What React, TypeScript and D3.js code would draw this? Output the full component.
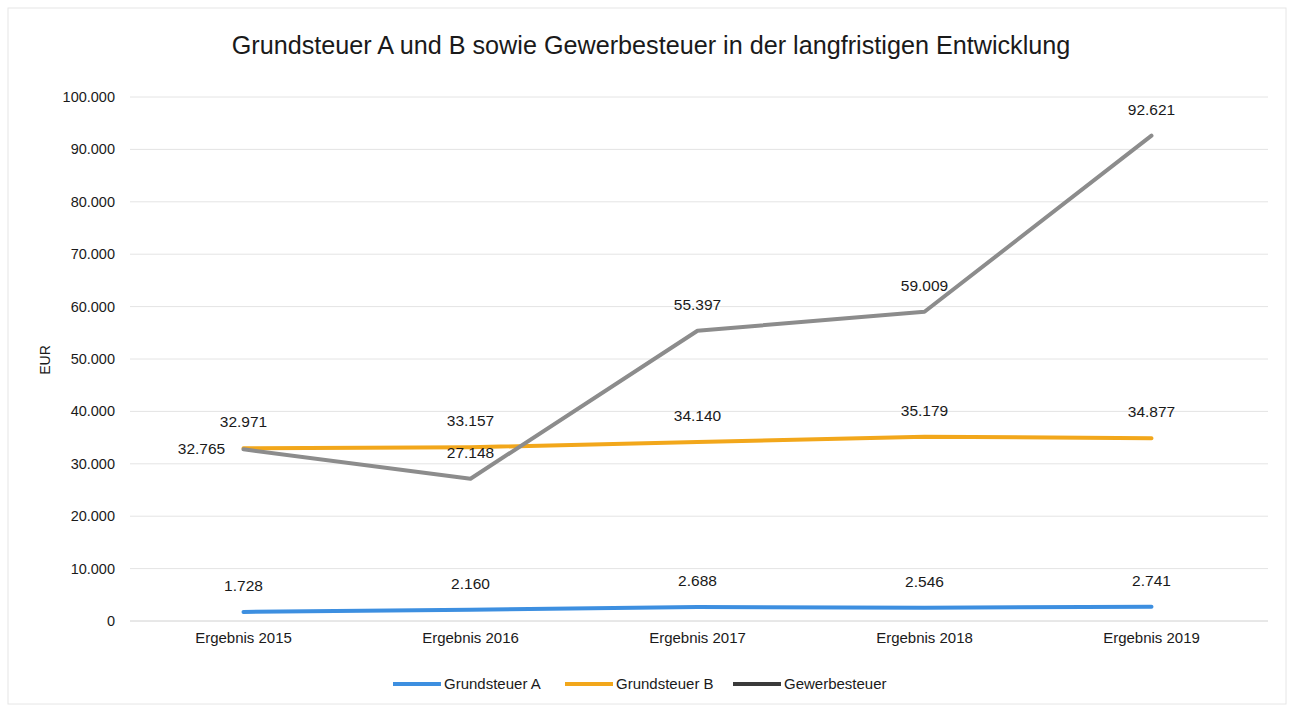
import React from "react";
import * as d3 from "d3";

const categories = ["Ergebnis 2015", "Ergebnis 2016", "Ergebnis 2017", "Ergebnis 2018", "Ergebnis 2019"];
const grundsteuerA = [1728, 2160, 2688, 2546, 2741];
const grundsteuerB = [32971, 33157, 34140, 35179, 34877];
const gewerbesteuer = [32765, 27148, 55397, 59009, 92621];
const yTicks = [0, 10000, 20000, 30000, 40000, 50000, 60000, 70000, 80000, 90000, 100000];
const seriesNames = ["Grundsteuer A", "Grundsteuer B", "Gewerbesteuer"];

const W = 1294, H = 708;
const FONT = "'Liberation Sans', Arial, sans-serif";
const fmt = (v: number) => d3.format(",")(v).replace(/,/g, ".");

export default function App() {
  const x = d3.scaleBand<string>().domain(categories).range([130, 1265]);
  const y = d3.scaleLinear().domain([0, 100000]).range([621, 97]);
  const cx = (c: string) => (x(c) as number) + x.bandwidth() / 2;
  const line = d3.line<number>().x((_, i) => cx(categories[i])).y((d) => y(d));

  const series = [
    { name: seriesNames[0], data: grundsteuerA, color: "#3d8fe0", legend: "#3d8fe0" },
    { name: seriesNames[1], data: grundsteuerB, color: "#f2a71b", legend: "#f2a71b" },
    { name: seriesNames[2], data: gewerbesteuer, color: "#8c8c8c", legend: "#3a3a3a" },
  ];

  const legendX = [393, 565, 733];

  return (
    <svg width={W} height={H} style={{ position: "absolute", left: 0, top: 0, background: "#fff" }} fontFamily={FONT}>
      <rect x={8} y={8} width={W - 16} height={H - 12} fill="none" stroke="#e6e6e6" />
      <text x={651} y={54} textAnchor="middle" fontSize={25.2} fill="#1a1a1a">
        Grundsteuer A und B sowie Gewerbesteuer in der langfristigen Entwicklung
      </text>
      {yTicks.map((t) => (
        <g key={t}>
          <line x1={130} x2={1268} y1={y(t)} y2={y(t)} stroke={t === 0 ? "#d0d0d0" : "#e4e4e4"} strokeWidth={1} />
          <text x={115} y={y(t) + 5} textAnchor="end" fontSize={14.5} fill="#1a1a1a">{fmt(t)}</text>
        </g>
      ))}
      <text transform={`translate(50,360) rotate(-90)`} textAnchor="middle" fontSize={14} fill="#1a1a1a">EUR</text>
      {categories.map((c) => (
        <text key={c} x={cx(c)} y={643} textAnchor="middle" fontSize={15} fill="#1a1a1a">{c}</text>
      ))}
      {series.map((s) => (
        <path key={s.name} d={line(s.data) as string} fill="none" stroke={s.color} strokeWidth={4} strokeLinejoin="round" strokeLinecap="round" />
      ))}
      {series.map((s, si) =>
        s.data.map((v, i) => {
          const left = si === 2 && i === 0;
          const px = cx(categories[i]);
          const py = y(v);
          return (
            <text key={s.name + i} x={left ? px - 42 : px} y={left ? py + 5 : py - 21} textAnchor="middle" fontSize={15.5} fill="#1a1a1a">
              {fmt(v)}
            </text>
          );
        })
      )}
      {series.map((s, i) => (
        <g key={"lg" + s.name}>
          <line x1={legendX[i]} x2={legendX[i] + 48} y1={684} y2={684} stroke={s.legend} strokeWidth={4} />
          <text x={legendX[i] + 51} y={689} fontSize={15} fill="#1a1a1a">{s.name}</text>
        </g>
      ))}
    </svg>
  );
}
